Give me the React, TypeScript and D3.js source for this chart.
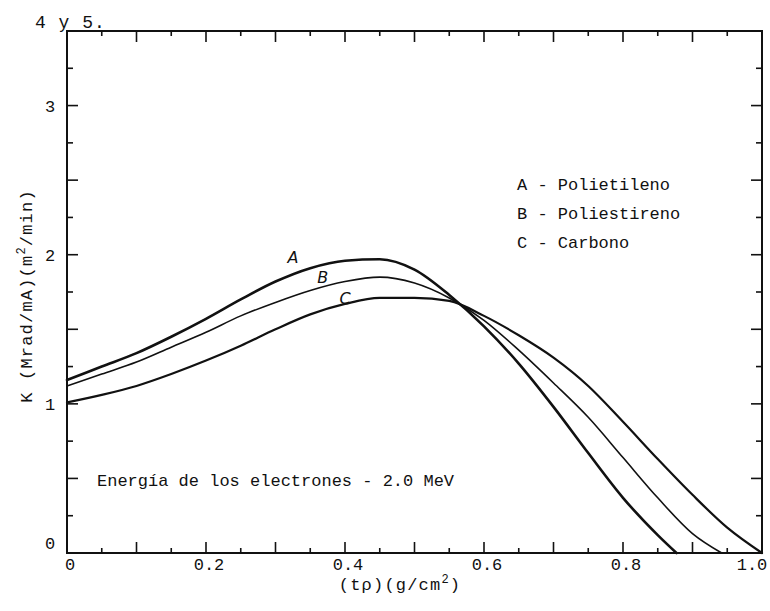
import React from 'react';
import * as d3 from 'd3';

const W = 770;
const H = 611;

// Curve A - Polietileno
const aX = [0, 0.05, 0.1, 0.15, 0.2, 0.25, 0.3, 0.35, 0.4, 0.45, 0.5, 0.55, 0.6, 0.65, 0.7, 0.75, 0.8, 0.85, 0.877];
const aY = [1.16, 1.25, 1.34, 1.45, 1.57, 1.7, 1.82, 1.91, 1.96, 1.97, 1.9, 1.73, 1.52, 1.27, 0.98, 0.67, 0.37, 0.12, 0];
// Curve B - Poliestireno
const bX = [0, 0.05, 0.1, 0.15, 0.2, 0.25, 0.3, 0.35, 0.4, 0.45, 0.5, 0.55, 0.6, 0.65, 0.7, 0.75, 0.8, 0.85, 0.9, 0.942];
const bY = [1.12, 1.2, 1.28, 1.38, 1.48, 1.59, 1.68, 1.76, 1.82, 1.85, 1.81, 1.71, 1.56, 1.36, 1.14, 0.91, 0.64, 0.37, 0.13, 0];
// Curve C - Carbono
const cX = [0, 0.05, 0.1, 0.15, 0.2, 0.25, 0.3, 0.35, 0.4, 0.45, 0.5, 0.55, 0.6, 0.65, 0.7, 0.75, 0.8, 0.85, 0.9, 0.95, 1.0];
const cY = [1.01, 1.06, 1.12, 1.2, 1.29, 1.39, 1.5, 1.6, 1.67, 1.71, 1.71, 1.69, 1.59, 1.46, 1.31, 1.12, 0.88, 0.63, 0.39, 0.17, 0];

const xTickValues = [0, 0.2, 0.4, 0.6, 0.8, 1.0];
const xTickLabels = ['0', '0.2', '0.4', '0.6', '0.8', '1.0'];
const yTickValues = [0, 1, 2, 3];
const yTickLabels = ['0', '1', '2', '3'];
const legendItems = ['A - Polietileno', 'B - Poliestireno', 'C - Carbono'];
const curveNames = ['A', 'B', 'C'];
const curveNameX = [0.325, 0.368, 0.4];
const curveNameY = [1.944, 1.81, 1.67];
const titleText = '4 y 5.';
const noteText = 'Energía de los electrones - 2.0 MeV';

const FONT = '"Liberation Mono", "DejaVu Sans Mono", monospace';

export default function App() {
  const x = d3.scaleLinear().domain([0, 1]).range([67, 762]);
  const y = d3.scaleLinear().domain([0, 3.5]).range([553, 31]);

  const line = d3
    .line<[number, number]>()
    .x((d) => x(d[0]))
    .y((d) => y(d[1]))
    .curve(d3.curveMonotoneX);

  const series = [
    { xs: aX, ys: aY, w: 2.6 },
    { xs: bX, ys: bY, w: 1.6 },
    { xs: cX, ys: cY, w: 2.2 },
  ];

  const xMinor = d3.range(0, 1.0001, 0.05);
  const yMinor = d3.range(0, 3.5001, 0.25);
  const isMajorX = (v: number) => Math.abs(v * 10 - Math.round(v * 10)) < 1e-6;
  const isMajorY = (v: number) => Math.abs(v * 2 - Math.round(v * 2)) < 1e-6;

  const [x0, x1] = x.range();
  const [y0, y1] = y.range();

  return (
    <svg
      width={W}
      height={H}
      style={{ position: 'absolute', left: 0, top: 0, background: '#fff' }}
      fontFamily={FONT}
    >
      <rect x={0} y={0} width={W} height={H} fill="#fff" />
      {/* frame */}
      <rect x={x0} y={y1} width={x1 - x0} height={y0 - y1} fill="none" stroke="#111" strokeWidth={2} />

      {/* x ticks bottom and top */}
      {xMinor.map((v, i) => {
        const len = isMajorX(v) ? 11 : 5;
        return (
          <g key={'xt' + i} stroke="#111" strokeWidth={1.6}>
            <line x1={x(v)} x2={x(v)} y1={y0} y2={y0 - len} />
            <line x1={x(v)} x2={x(v)} y1={y1} y2={y1 + len} />
          </g>
        );
      })}
      {/* y ticks left and right */}
      {yMinor.map((v, i) => {
        const len = isMajorY(v) ? 11 : 6;
        return (
          <g key={'yt' + i} stroke="#111" strokeWidth={1.6}>
            <line x1={x0} x2={x0 + len} y1={y(v)} y2={y(v)} />
            <line x1={x1} x2={x1 - len} y1={y(v)} y2={y(v)} />
          </g>
        );
      })}

      {/* x tick labels */}
      {xTickValues.map((v, i) => (
        <text
          key={'xl' + i}
          x={Math.min(x(v) + 3, 752)}
          y={570}
          textAnchor="middle"
          fontSize={17}
          fill="#111"
        >
          {xTickLabels[i]}
        </text>
      ))}
      {/* y tick labels */}
      {yTickValues.map((v, i) => (
        <text
          key={'yl' + i}
          x={50}
          y={Math.min(y(v), 543) + 6}
          textAnchor="middle"
          fontSize={17}
          fill="#111"
        >
          {yTickLabels[i]}
        </text>
      ))}

      {/* curves */}
      {series.map((s, i) => (
        <path
          key={'c' + i}
          d={line(s.xs.map((xv, j) => [xv, s.ys[j]] as [number, number])) || ''}
          fill="none"
          stroke="#111"
          strokeWidth={s.w}
          strokeLinejoin="round"
          strokeLinecap="round"
        />
      ))}

      {/* curve name labels */}
      {curveNames.map((n, i) => (
        <text
          key={'cn' + i}
          x={x(curveNameX[i])}
          y={y(curveNameY[i])}
          textAnchor="middle"
          fontSize={16}
          fontStyle="italic"
          fontFamily='"DejaVu Sans", sans-serif'
          fill="#111"
        >
          {n}
        </text>
      ))}

      {/* legend */}
      {legendItems.map((t, i) => (
        <text key={'lg' + i} x={517} y={190 + i * 29} fontSize={17} fill="#111">
          {t}
        </text>
      ))}

      {/* note */}
      <text x={97} y={486} fontSize={17} fill="#111">
        {noteText}
      </text>

      {/* title */}
      <text x={35} y={28} fontSize={18} fill="#111" letterSpacing={1}>
        {titleText}
      </text>

      {/* x axis label */}
      <text x={400} y={590} textAnchor="middle" fontSize={17} fill="#111" letterSpacing={1.2}>
        (tρ)(g/cm
        <tspan dy={-7} fontSize={12}>2</tspan>
        <tspan dy={7}>)</tspan>
      </text>

      {/* y axis label */}
      <text
        transform="translate(32,296) rotate(-90)"
        textAnchor="middle"
        fontSize={17}
        fill="#111"
        letterSpacing={1.2}
      >
        K (Mrad/mA)(m
        <tspan dy={-7} fontSize={12}>2</tspan>
        <tspan dy={7}>/min)</tspan>
      </text>
    </svg>
  );
}
